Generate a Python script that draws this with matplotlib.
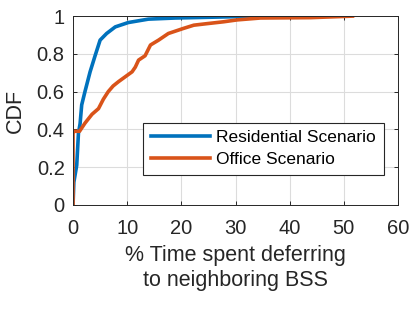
import numpy as np
import matplotlib.pyplot as plt

plt.rcParams.update({
    "font.family": ["Liberation Sans", "DejaVu Sans"],
    "font.size": 14,
})

# CDF points
res_x = [0, 0.15, 0.68, 1.0, 1.3, 1.6, 2.2, 3.15, 4.07, 5.0, 6.2, 7.8, 10.2, 13.9, 18.9, 30.0, 38.8]
res_y = [0.0, 0.12, 0.21, 0.38, 0.43, 0.53, 0.60, 0.705, 0.79, 0.873, 0.908, 0.943, 0.966, 0.984, 0.99, 0.997, 1.0]

off_x = [0, 0, 0.1, 1.2, 2.2, 3.5, 4.7, 5.6, 6.5, 7.4, 8.4, 9.7, 10.9, 11.5, 12.1, 13.3, 14.3, 15.8,
         17.6, 20.4, 22.3, 24.7, 27.8, 30.3, 34.6, 43.9, 51.6]
off_y = [0.0, 0.39, 0.39, 0.39, 0.433, 0.48, 0.51, 0.56, 0.60, 0.63, 0.653, 0.68, 0.705, 0.73, 0.767,
         0.79, 0.847, 0.873, 0.908, 0.935, 0.952, 0.96, 0.97, 0.98, 0.99, 0.992, 1.0]

fig = plt.figure(figsize=(4.15, 3.1), dpi=100)
ax = fig.add_axes([0.176, 0.339, 0.783, 0.609])

ax.plot(res_x, res_y, color='#0072BD', lw=2.6, label='Residential Scenario')
ax.plot(off_x, off_y, color='#D95319', lw=2.6, label='Office Scenario')

ax.set_xlim(0, 60)
ax.set_ylim(0, 1)
ax.set_xticks(range(0, 61, 10))
ax.set_yticks([0, 0.2, 0.4, 0.6, 0.8, 1])
ax.set_yticklabels(['0', '0.2', '0.4', '0.6', '0.8', '1'])
ax.grid(True, color='#dcdcdc', lw=0.8)
ax.set_axisbelow(True)
ax.tick_params(direction='in', top=True, right=True, length=3, width=0.7, colors='#262626', labelsize=14.5)
ax.tick_params(axis='x', pad=10)
ax.tick_params(axis='y', pad=6)
for s in ax.spines.values():
    s.set_color('#262626')
    s.set_linewidth(0.7)

ax.set_ylabel('CDF', fontsize=15.5, color='#262626', labelpad=8)
ax.set_xlabel('% Time spent deferring\nto neighboring BSS', fontsize=15.5, color='#262626',
              linespacing=1.25, labelpad=5)

leg = ax.legend(loc='lower right', bbox_to_anchor=(0.983, 0.115), fontsize=12.5, fancybox=False,
                edgecolor='#262626', framealpha=1, handlelength=3.4, borderpad=0.45,
                labelspacing=0.35, handletextpad=0.35)
leg.get_frame().set_linewidth(0.8)

plt.savefig('out.png', dpi=100)
